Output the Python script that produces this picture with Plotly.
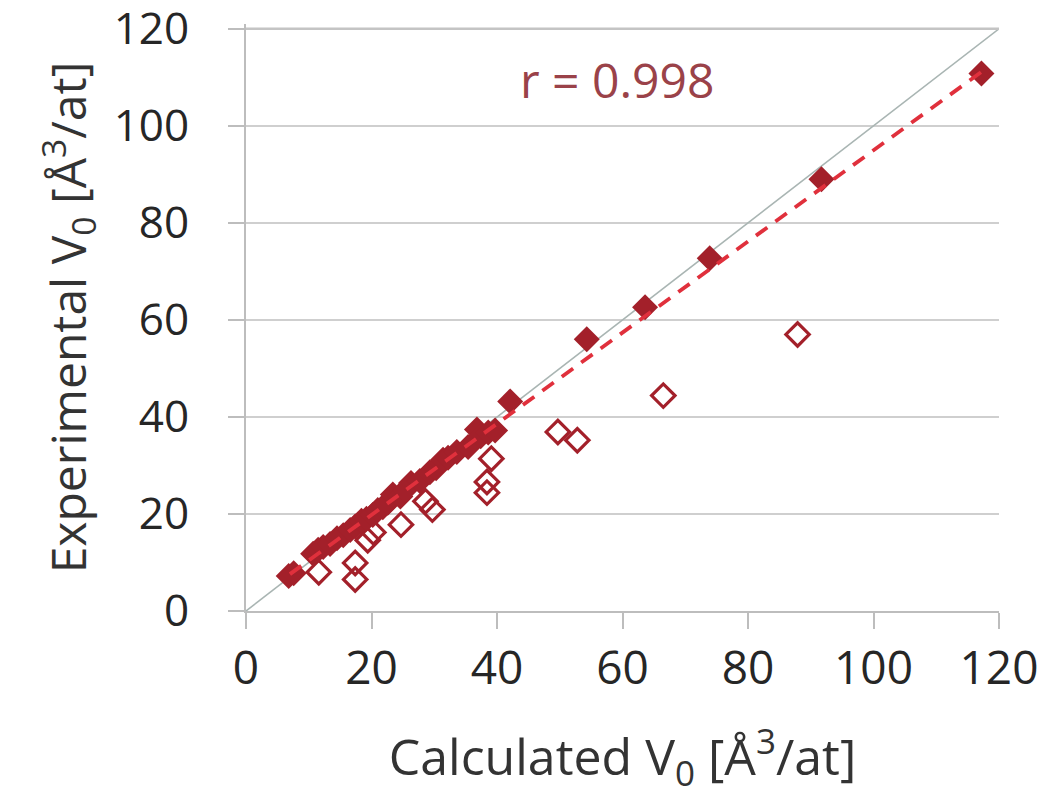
import plotly.graph_objects as go

# Filled diamonds (main data set)
filled_x = [6.8, 7.6, 10.7, 11.5, 12.3, 13.4, 14.5, 15.5, 16.6, 17.4, 18.4, 19.2, 20.2, 21.0,
            21.8, 22.6, 23.4, 24.6, 25.4, 26.3, 27.7, 29.3, 30.3, 31.4, 32.2, 33.6, 35.4,
            36.8, 37.4, 38.6, 39.7, 42.1, 54.3, 63.6, 73.9, 91.7, 117.2]
filled_y = [7.2, 7.8, 11.8, 12.6, 13.2, 13.8, 15.0, 15.6, 16.7, 17.4, 18.6, 19.0, 19.8, 20.8,
            21.4, 22.3, 24.0, 23.6, 25.0, 26.4, 26.8, 28.6, 29.4, 31.2, 31.6, 32.8, 33.8,
            37.4, 36.0, 36.8, 37.2, 43.2, 56.0, 62.6, 72.7, 89.0, 110.8]

# Open diamonds (second data set)
open_x = [11.6, 17.4, 17.4, 19.4, 20.3, 24.7, 28.6, 29.7, 38.4, 38.4, 39.1, 49.7, 52.8, 66.5, 87.9]
open_y = [8.0, 9.9, 6.5, 14.6, 16.2, 17.8, 22.6, 20.9, 24.4, 26.6, 31.4, 36.9, 35.2, 44.4, 57.0]

# Trend line (linear fit, r = 0.998) and 1:1 line
trend_x = [7.0, 117.5]
trend_y = [7.6, 111.4]
ident_x = [0, 120]
ident_y = [0, 120]

x_ticks = [0, 20, 40, 60, 80, 100, 120]
y_ticks = [0, 20, 40, 60, 80, 100, 120]

DARK_RED = "#A3202A"
FONT = "Open Sans"
GRID = "#CFCFCF"

fig = go.Figure()

fig.add_trace(go.Scatter(x=ident_x, y=ident_y, mode="lines",
                         line=dict(color="#A9B5B3", width=1.6),
                         showlegend=False, hoverinfo="skip"))
fig.add_trace(go.Scatter(x=open_x, y=open_y, mode="markers",
                         marker=dict(symbol="diamond-open", size=18, color=DARK_RED,
                                     line=dict(width=3.2, color="#8E2A30")),
                         showlegend=False, cliponaxis=False))
fig.add_trace(go.Scatter(x=filled_x, y=filled_y, mode="markers",
                         marker=dict(symbol="diamond", size=20, color=DARK_RED,
                                     line=dict(width=0)),
                         showlegend=False, cliponaxis=False))
fig.add_trace(go.Scatter(x=trend_x, y=trend_y, mode="lines",
                         line=dict(color="#E0303C", width=3.8, dash="14px,10px"),
                         showlegend=False, hoverinfo="skip"))

fig.add_annotation(x=59.2, y=109.5, xref="x", yref="y", text="r = 0.998",
                   showarrow=False, font=dict(family=FONT, size=48, color="#9A4249"))

# top gridline (at the last y tick)
fig.add_shape(type="line", xref="x", yref="y", x0=x_ticks[0], x1=x_ticks[-1],
              y0=y_ticks[-1], y1=y_ticks[-1],
              line=dict(color="#C4C4C4", width=2.5), layer="above")

fig.update_xaxes(range=[0, 120], tickvals=x_ticks, ticktext=[str(v) for v in x_ticks],
                 showgrid=False, zeroline=False, showline=True, linecolor="#BDBDBD",
                 linewidth=2, ticks="outside", ticklen=16, tickwidth=2, tickcolor="#BDBDBD",
                 tickfont=dict(family=FONT, size=46, color="#262626"),
                 ticklabelstandoff=0, ticklabeloverflow="allow", automargin=False,
                 title=dict(text="Calculated V<sub>0</sub> [Å<sup>3</sup>/at]",
                            font=dict(family=FONT, size=50, color="#333333"),
                            standoff=44))
fig.update_yaxes(range=[0, 121], tickvals=y_ticks, ticktext=[str(v) for v in y_ticks],
                 showgrid=True, gridcolor=GRID, gridwidth=2, zeroline=False,
                 showline=True, linecolor="#BDBDBD", linewidth=2,
                 ticks="outside", ticklen=16, tickwidth=2, tickcolor="#BDBDBD",
                 tickfont=dict(family=FONT, size=44, color="#262626"),
                 ticklabelstandoff=30, ticklabeloverflow="allow", automargin=False,
                 title=dict(text="Experimental V<sub>0</sub> [Å<sup>3</sup>/at]",
                            font=dict(family=FONT, size=48, color="#333333"),
                            standoff=12))

fig.update_layout(width=1050, height=796, plot_bgcolor="white", paper_bgcolor="white",
                  margin=dict(l=246, r=51, t=24, b=185, autoexpand=False), showlegend=False)

fig.write_html("out.html")
